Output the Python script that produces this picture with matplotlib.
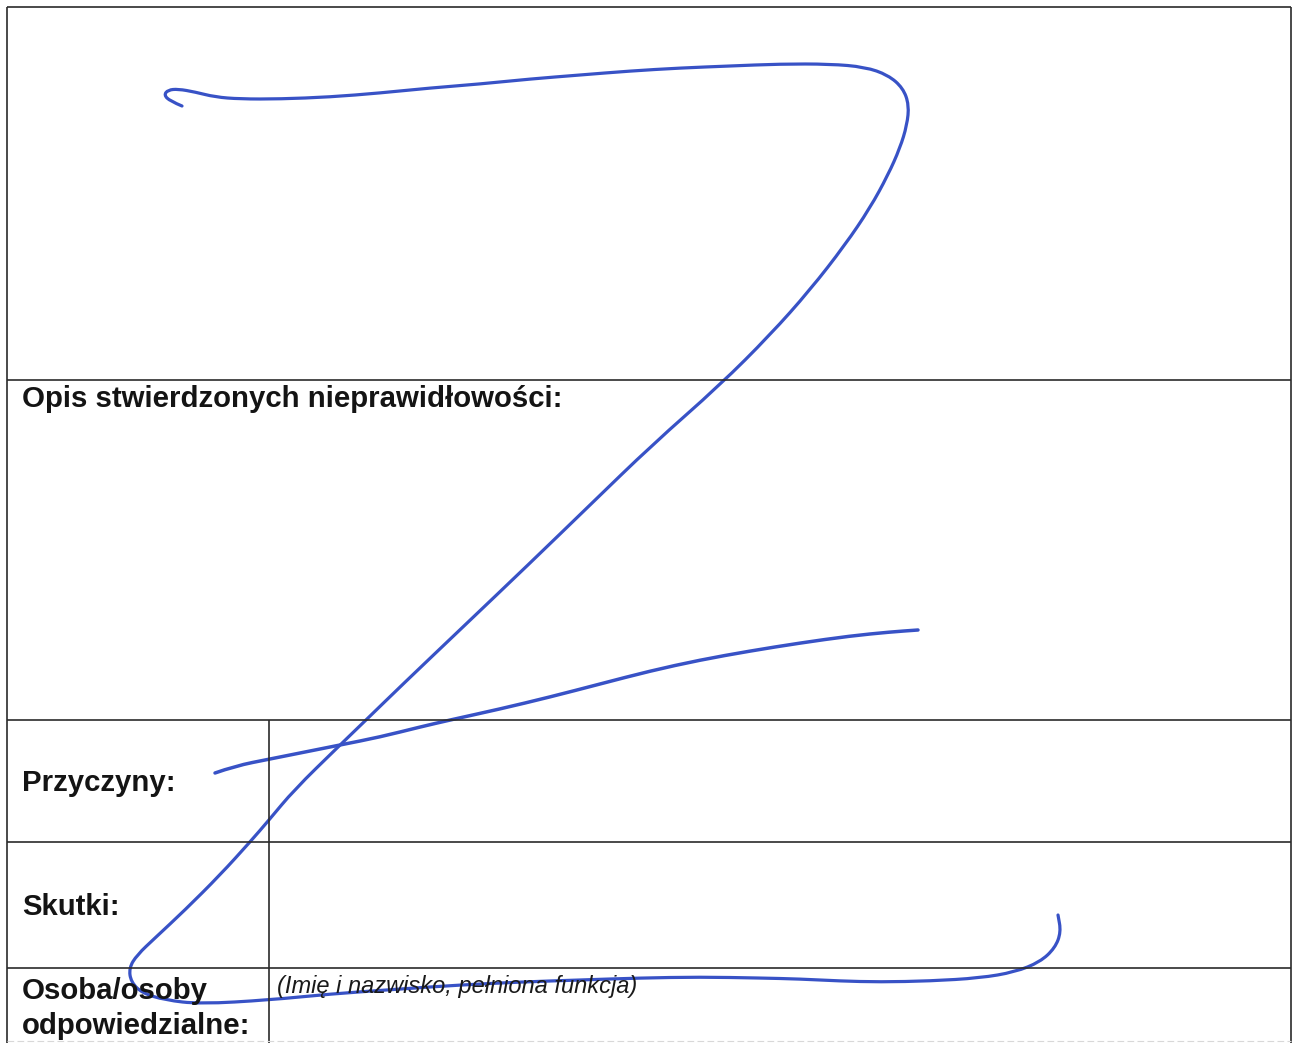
import matplotlib
matplotlib.use("Agg")
import matplotlib.pyplot as plt
from matplotlib.path import Path
from matplotlib.patches import PathPatch
import numpy as np

W, H = 1294, 1043

# form grid (pixel coords, y down)
border_x = [7, 1291]
border_top = 7
row_lines = [380, 720, 842, 968]
col_split = 269

# labels
labels = ["Opis stwierdzonych nieprawidłowości:", "Przyczyny:", "Skutki:", "Osoba/osoby", "odpowiedzialne:"]
label_y = [399, 783, 907, 991, 1026]
hint = "(Imię i nazwisko, pełniona funkcja)"

# blue pen scribble: big "Z"
z_x = [182, 170, 164, 168, 178, 195, 215, 240, 280, 330, 380, 430, 480, 530, 580, 630, 680, 730, 780, 830,
       865, 888, 903, 909, 907, 900, 888, 870, 845, 810, 770, 720, 652, 590, 528, 465, 402, 366, 338, 294,
       269, 250, 220, 185, 155, 137, 129, 131, 142, 165, 200, 269, 330, 400, 460, 520, 580, 640, 700, 760,
       800, 840, 880, 930, 980, 1015, 1040, 1055, 1061, 1058]
z_y = [106, 101, 95, 90, 89, 92, 97, 99, 99, 97, 93, 88, 84, 79, 75, 71, 68, 66, 64, 64,
       67, 75, 88, 105, 125, 148, 175, 208, 245, 290, 335, 385, 445, 505, 565, 625, 685, 720, 747, 790,
       820, 842, 875, 910, 938, 955, 968, 982, 993, 1000, 1004, 1000, 994, 989, 985, 982, 980, 978, 977, 978,
       979, 981, 982, 981, 978, 972, 962, 948, 932, 915]

# second stroke across the lower rows
s_x = [215, 235, 270, 310, 340, 380, 420, 450, 500, 550, 600, 650, 700, 750, 800, 850, 890, 918]
s_y = [773, 766, 759, 751, 745, 737, 727, 720, 709, 697, 684, 671, 660, 651, 643, 636, 632, 630]


def pen_stroke(ax, xs, ys, **kw):
    # quadratic B-spline through the read points, drawn by matplotlib's own path curves
    pts = np.column_stack([xs, ys]).astype(float)
    verts = [pts[0]]
    codes = [Path.MOVETO]
    for i in range(1, len(pts) - 1):
        verts += [pts[i], (pts[i] + pts[i + 1]) / 2]
        codes += [Path.CURVE3, Path.CURVE3]
    verts.append(pts[-1])
    codes.append(Path.LINETO)
    ax.add_patch(PathPatch(Path(verts, codes), fill=False, capstyle="round", joinstyle="round", **kw))


fig = plt.figure(figsize=(W / 100, H / 100), dpi=100)
ax = fig.add_axes([0, 0, 1, 1])
ax.set_xlim(0, W)
ax.set_ylim(H, 0)
ax.axis("off")

line_kw = dict(color="#2b2b2b", lw=1.2, solid_capstyle="butt")
ax.plot([border_x[0], border_x[1]], [border_top, border_top], **line_kw)
for x in border_x:
    ax.plot([x, x], [border_top, H], **line_kw)
for y in row_lines:
    ax.plot(border_x, [y, y], **line_kw)
ax.plot([col_split, col_split], [row_lines[1], H], **line_kw)
ax.plot(border_x, [1041, 1041], color="#d8d8d8", lw=0.8, ls=(0, (6, 3)))

for t, y in zip(labels, label_y):
    ax.text(22, y, t, fontsize=21.2, fontweight="bold", family="Liberation Sans",
            color="#141414", va="center", ha="left")
ax.text(277, 986, hint, fontsize=17, style="italic", family="Liberation Sans",
        color="#1a1a1a", va="center", ha="left")

pen = "#3852c6"
pen_stroke(ax, z_x, z_y, edgecolor=pen, lw=2.3)
pen_stroke(ax, s_x, s_y, edgecolor=pen, lw=2.5)

fig.savefig("out.png", dpi=100, facecolor="white")
